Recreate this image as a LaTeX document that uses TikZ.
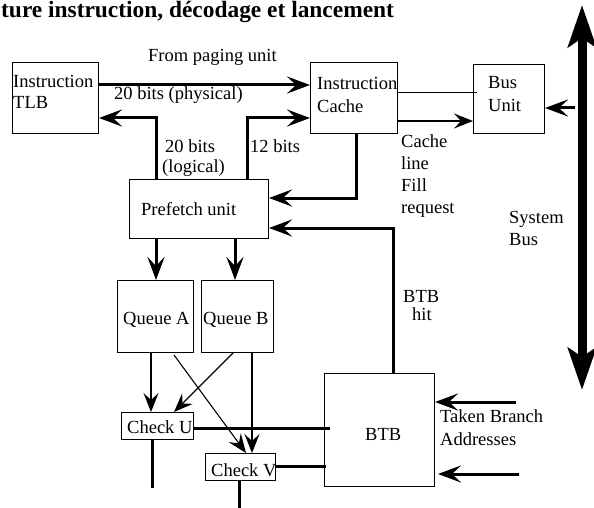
\documentclass[tikz,border=0pt]{standalone}
\usepackage{fontspec}
\setmainfont{Liberation Serif}
\usetikzlibrary{arrows.meta}
\tikzset{
  box/.style={draw, line width=1pt, inner sep=0pt, anchor=north west},
  lbl/.style={anchor=base west, inner sep=0pt, font=\fontsize{18.5}{22}\selectfont},
  heavyline/.style={line width=3pt},
  heavyarrow/.style={line width=3pt, -{Stealth[length=23pt,width=17pt,inset=9pt]}},
  thinline/.style={line width=1pt},
  thinarrow/.style={line width=1.1pt, -{Stealth[length=19pt,width=15pt,inset=7pt]}},
  sysbus/.style={line width=9pt, {Stealth[length=42pt,width=28pt,inset=9pt]}-{Stealth[length=42pt,width=28pt,inset=9pt]}}
}
\begin{document}
\begin{tikzpicture}[x=1pt,y=-1pt]
\useasboundingbox (0,0) rectangle (594,508);

% title
\node[anchor=base west, inner sep=0pt, font=\fontsize{23.4}{27}\selectfont\bfseries] (title) at (1,18) {ture instruction, décodage et lancement};

% blocks
\node[box, minimum width=86pt, minimum height=71pt] (tlb) at (12,62) {};
\node[box, minimum width=87pt, minimum height=71pt] (cache) at (310,62) {};
\node[box, minimum width=71pt, minimum height=69pt] (bus) at (473,64) {};
\node[box, minimum width=139pt, minimum height=59pt] (pref) at (129,179) {};
\node[box, minimum width=76pt, minimum height=72pt] (qa) at (117,280) {};
\node[box, minimum width=72pt, minimum height=72pt] (qb) at (201,280) {};
\node[box, minimum width=72pt, minimum height=27pt] (cu) at (121,412) {};
\node[box, minimum width=70pt, minimum height=27pt] (cv) at (205,453) {};
\node[box, minimum width=110pt, minimum height=113pt] (btb) at (324,373) {};

% block texts
\node[lbl] (tlbA) at (13,88) {Instruction};
\node[lbl] (tlbB) at (13,109) {TLB};
\node[lbl] (cacheA) at (317,90) {Instruction};
\node[lbl] (cacheB) at (317,113) {Cache};
\node[lbl] (busA) at (488,89) {Bus};
\node[lbl] (busB) at (488,112) {Unit};
\node[lbl] (prefT) at (141,215) {Prefetch unit};
\node[lbl] (qaT) at (123,324) {Queue A};
\node[lbl] (qbT) at (203,324) {Queue B};
\node[lbl] (cuT) at (127,433) {Check U};
\node[lbl] (cvT) at (211,476) {Check V};
\node[lbl] (btbT) at (365,440) {BTB};

% connector labels
\node[lbl] (paging) at (148,62) {From paging unit};
\node[lbl] (phys) at (114,100) {20 bits (physical)};
\node[lbl] (logA) at (165,153) {20 bits};
\node[lbl] (logB) at (162,172) {(logical)};
\node[lbl] (twelve) at (250,153) {12 bits};
\node[lbl] (fillA) at (401,147) {Cache};
\node[lbl] (fillB) at (401,169) {line};
\node[lbl] (fillC) at (401,191) {Fill};
\node[lbl] (fillD) at (401,213) {request};
\node[lbl] (sysA) at (509,223) {System};
\node[lbl] (sysB) at (509,245) {Bus};
\node[lbl] (hitA) at (403,302) {BTB};
\node[lbl] (hitB) at (412,320) {hit};
\node[lbl] (takA) at (440,422) {Taken Branch};
\node[lbl] (takB) at (440,445) {Addresses};

% system bus
\coordinate (sbtop) at (582,5);
\coordinate (sbbot) at (582,390);
\draw[sysbus] (sbtop) -- (sbbot);

% paging / cache path
\draw[heavyarrow] (tlb.east |- 0,85) -- (cache.west |- 0,85);
\draw[heavyarrow] (156,0 |- pref.north) -- (156,118) -- (tlb.east |- 0,118);
\draw[heavyarrow] (247,0 |- pref.north) -- (247,118) -- (cache.west |- 0,118);
\draw[heavyarrow] (356,0 |- cache.south) -- (356,198) -- (pref.east |- 0,198);
\draw[heavyarrow] (393,0 |- btb.north) -- (393,228) -- (pref.east |- 0,228);

% cache <-> bus unit
\coordinate (cacheline) at (477,93);
\draw[thinline] (cache.east |- 0,93) -- (cacheline);
\draw[thinarrow] (cache.east |- 0,121) -- (bus.west |- 0,121);
\coordinate (busin) at (575,108);
\draw[heavyarrow] (busin) -- (bus.east |- 0,108);

% prefetch to queues
\draw[heavyarrow] (156,0 |- pref.south) -- (156,0 |- qa.north);
\draw[heavyarrow] (235,0 |- pref.south) -- (235,0 |- qb.north);

% queues to checks
\draw[thinarrow] (151,0 |- qa.south) -- (151,0 |- cu.north);
\draw[thinarrow] (233,0 |- qb.south) -- (174,0 |- cu.north);
\draw[thinarrow] (174,355) -- (246,0 |- cv.north);
\draw[thinarrow] (252,0 |- qb.south) -- (252,0 |- cv.north);

% checks to BTB and outputs
\coordinate (btbU) at (330,428);
\coordinate (btbV) at (326,466);
\draw[heavyline] (cu.east |- 0,428) -- (btbU);
\draw[heavyline] (cv.east |- 0,466) -- (btbV);
\coordinate (uout) at (152,488);
\coordinate (vout) at (239,508);
\draw[heavyline] (152,0 |- cu.south) -- (uout);
\draw[heavyline] (239,0 |- cv.south) -- (vout);

% taken branch addresses
\coordinate (takin1) at (516,402);
\coordinate (takin2) at (519,474);
\coordinate (takend2) at (438,474);
\draw[heavyarrow] (takin1) -- (btb.east |- 0,402);
\draw[heavyarrow] (takin2) -- (takend2);
\end{tikzpicture}
\end{document}
